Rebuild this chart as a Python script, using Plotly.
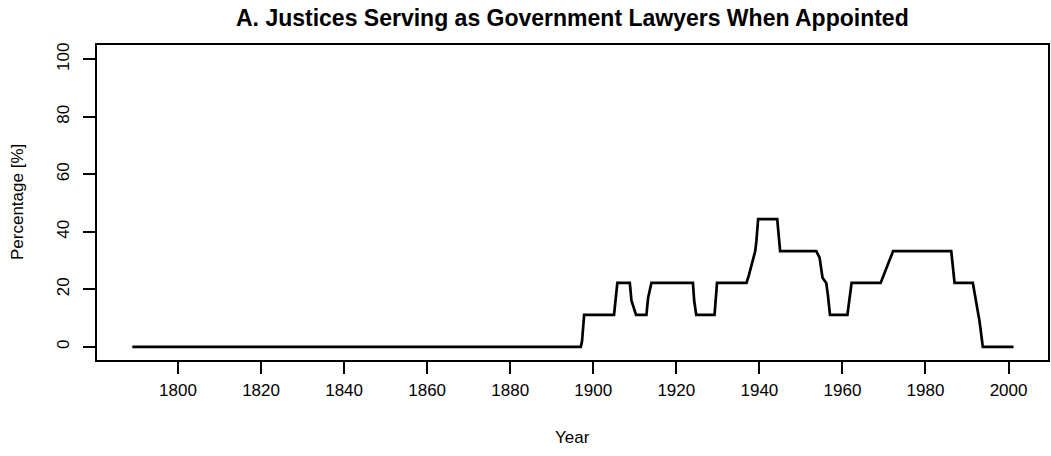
import plotly.graph_objects as go

# Data (year, percentage of justices)
years = [1789, 1897, 1897.3, 1897.8, 1905, 1905.3, 1905.8, 1908.8, 1909.2, 1910.3,
         1912.8, 1913.2, 1914, 1924, 1924.3, 1924.8, 1929.2, 1929.8, 1936.9, 1937.5,
         1938, 1938.5, 1939, 1939.3, 1939.7, 1944.3, 1944.6, 1945, 1953.7, 1954.5,
         1955.2, 1956.1, 1956.5, 1957, 1961.2, 1961.5, 1962.2, 1969.2, 1970, 1971,
         1972.2, 1986.2, 1987, 1991.4, 1992.2, 1993, 1993.8, 2001.2]
pct = [0, 0, 2, 11.1, 11.1, 16, 22.2, 22.2, 16, 11.1,
       11.1, 17, 22.2, 22.2, 16, 11.1, 11.1, 22.2, 22.2, 25,
       28, 31, 33.3, 37, 44.4, 44.4, 38, 33.3, 33.3, 31,
       24, 22.2, 18, 11.1, 11.1, 15, 22.2, 22.2, 25, 29,
       33.3, 33.3, 22.2, 22.2, 16, 9, 0, 0]

x_ticks = [1800, 1820, 1840, 1860, 1880, 1900, 1920, 1940, 1960, 1980, 2000]
y_ticks = [0, 20, 40, 60, 80, 100]

title_text = "A. Justices Serving as Government Lawyers When Appointed"
x_title = "Year"
y_title = "Percentage [%]"

FONT = "Liberation Sans, Arial, sans-serif"

fig = go.Figure()
fig.add_trace(go.Scatter(x=years, y=pct, mode="lines",
                         line=dict(color="black", width=2.7), showlegend=False,
                         hoverinfo="skip"))

fig.update_layout(
    width=1051, height=456,
    margin=dict(l=97, r=3, t=45, b=96),
    paper_bgcolor="white", plot_bgcolor="white",
    font=dict(family=FONT, color="black", size=17),
    showlegend=False,
)

fig.update_xaxes(
    range=[1780.5, 2009.5], tickmode="array", tickvals=x_ticks,
    ticktext=[str(t) for t in x_ticks], automargin=False,
    showgrid=False, zeroline=False, showline=True, linecolor="black", linewidth=2,
    mirror=True, ticks="outside", ticklen=12, tickwidth=2, tickcolor="black",
    tickfont=dict(size=17, family=FONT), ticklabelstandoff=2,
)
fig.update_yaxes(
    range=[-4.6, 105], tickmode="array", tickvals=y_ticks,
    ticktext=[str(t) for t in y_ticks], automargin=False,
    showgrid=False, zeroline=False, showline=True, linecolor="black", linewidth=2,
    mirror=True, ticks="outside", ticklen=12, tickwidth=2, tickcolor="black",
    tickfont=dict(size=17, family=FONT), tickangle=-90, ticklabelstandoff=7,
)

# Titles as annotations placed relative to the plot area
plot_h = 456 - 45 - 96
plot_w = 1051 - 97 - 3
fig.add_annotation(text="<b>" + title_text + "</b>", xref="paper", yref="paper",
                   x=(572 - 97) / plot_w, y=(360 - 18) / plot_h,
                   xanchor="center", yanchor="middle",
                   showarrow=False, font=dict(size=23, family=FONT))
fig.add_annotation(text=x_title, xref="paper", yref="paper",
                   x=0.5, y=(360 - 437) / plot_h, xanchor="center", yanchor="middle",
                   showarrow=False, font=dict(size=17, family=FONT))
fig.add_annotation(text=y_title, xref="paper", yref="paper",
                   x=-(97 - 17) / plot_w, y=(360 - 202) / plot_h,
                   xanchor="center", yanchor="middle", textangle=-90,
                   showarrow=False, font=dict(size=17, family=FONT))

fig.write_html("out.html", config={"displayModeBar": False, "staticPlot": True},
               post_script="document.body.style.margin='0';")
